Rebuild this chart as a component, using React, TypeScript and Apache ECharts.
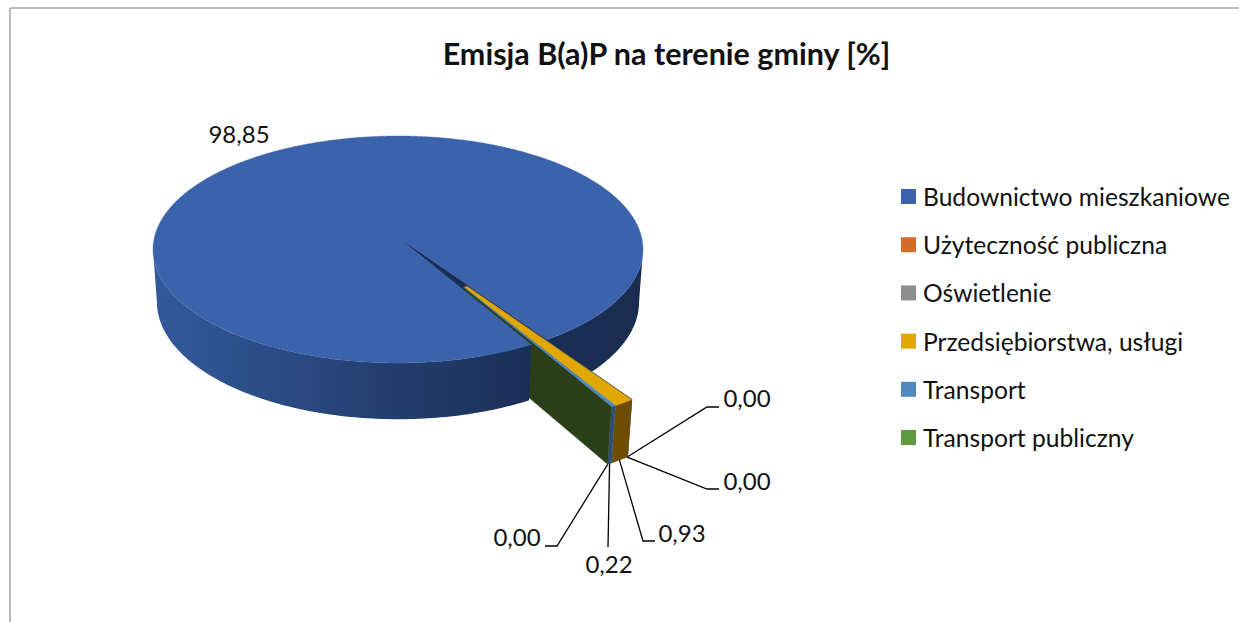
import React, { useEffect, useRef } from "react";
import * as echarts from "echarts";

const categories = [
  "Budownictwo mieszkaniowe",
  "Użyteczność publiczna",
  "Oświetlenie",
  "Przedsiębiorstwa, usługi",
  "Transport",
  "Transport publiczny",
];
const values = [98.85, 0.0, 0.0, 0.93, 0.22, 0.0];
const titleText = "Emisja B(a)P na terenie gminy [%]";

const topColors = ["#3B63AB", "#D46C2A", "#8E8E8E", "#E0A800", "#5089BF", "#5F9A3E"];
const wallColors = ["#1A2E54", "#6E3A15", "#5A5A5A", "#6F4D00", "#2B4F78", "#2A3F18"];

const FONT = "Lato, Carlito, Calibri, sans-serif";
const CX = 398, CY = 237, R = 243.5, S = 112.1, K = 0.11, DEPTH = 53, SHRINK = 0.016;
const FIRST_ANGLE = 150.3, EXPLODE = 0.28, SMALL_RADIUS = 1.22, SMALL_INNER = 0.18;
const SIDE_ANGLE = (Math.acos(K) * 180) / Math.PI;

const rad = (d: number) => (d * Math.PI) / 180;
const project = (u: number, v: number, bottom: boolean) => {
  const w = 1 - K * v + (bottom ? SHRINK : 0);
  return [CX + (R * u) / w, CY + (S * v + (bottom ? DEPTH : 0)) / w];
};
const total = values.reduce((a, b) => a + b, 0);
const angleOf = (i: number) => {
  let s = 0;
  for (let k = 0; k < i; k++) s += values[k];
  return FIRST_ANGLE + (s / total) * 360;
};
const bisector = (angleOf(1) + angleOf(values.length)) / 2;
const OFF_U = EXPLODE * Math.sin(rad(bisector));
const OFF_V = -EXPLODE * Math.cos(rad(bisector));

const pt = (a: number, r: number, off: boolean, bottom: boolean) => {
  const rr = off ? r * SMALL_RADIUS : r;
  return project(rr * Math.sin(rad(a)) + (off ? OFF_U : 0), -rr * Math.cos(rad(a)) + (off ? OFF_V : 0), bottom);
};

const rim = (a0: number, a1: number, off: boolean, bottom: boolean) => {
  const n = Math.max(1, Math.ceil(Math.abs(a1 - a0) * 2));
  const out: number[][] = [];
  for (let i = 0; i <= n; i++) out.push(pt(a0 + ((a1 - a0) * i) / n, 1, off, bottom));
  return out;
};

const poly = (points: number[][], fill: any) => ({
  type: "polygon",
  shape: { points },
  style: { fill, stroke: typeof fill === "string" ? fill : "none", lineWidth: typeof fill === "string" ? 0.4 : 0 },
  silent: true,
});
const wallGradient = () =>
  new echarts.graphic.LinearGradient(
    153, 0, 643, 0,
    [
      { offset: 0, color: "#345A9C" },
      { offset: 0.38, color: "#264478" },
      { offset: 0.77, color: "#1A2F56" },
      { offset: 1, color: "#192C50" },
    ],
    true
  );

const fmt = (v: number) => v.toFixed(2).replace(".", ",");

const labelLayout: Record<number, { via: number[][]; text: number[] }> = {
  0: { via: [], text: [239, 133] },
  1: { via: [[707, 407], [719, 407]], text: [747, 397] },
  2: { via: [[707, 489], [719, 489]], text: [747, 480] },
  3: { via: [[643, 541], [655, 541]], text: [682, 532] },
  4: { via: [[608, 547]], text: [609, 563] },
  5: { via: [[557, 546], [545, 546]], text: [517, 536] },
};

const labelEls = (i: number) => {
  const layout = labelLayout[i];
  const els: any[] = [];
  if (layout.via.length) {
    const mid = (angleOf(i) + angleOf(i + 1)) / 2;
    const start = pt(mid, 1, true, true);
    els.push({
      type: "polyline",
      shape: { points: [start, ...layout.via] },
      style: { stroke: "#000", lineWidth: 1.3, fill: "none" },
      silent: true,
    });
  }
  els.push({
    type: "text",
    style: {
      text: fmt(values[i]),
      x: layout.text[0],
      y: layout.text[1],
      align: "center",
      verticalAlign: "middle",
      font: `24px ${FONT}`,
      fill: "#111",
    },
    silent: true,
  });
  return els;
};

const mainBack = () => {
  const end = angleOf(1) - 360;
  return {
    type: "group",
    children: [
      poly([project(0, 0, false), pt(end, 1, false, false), pt(end, 1, false, true), project(0, 0, true)], wallColors[0]),
      poly([...rim(180 - SIDE_ANGLE, end, false, false), ...rim(end, 180 - SIDE_ANGLE, false, true)], wallGradient()),
    ],
  };
};
const mainFront = () => {
  const a0 = angleOf(0), a1 = angleOf(1);
  return {
    type: "group",
    children: [
      poly([...rim(a0, 180 + SIDE_ANGLE, false, false), ...rim(180 + SIDE_ANGLE, a0, false, true)], wallGradient()),
      poly([project(0, 0, false), ...rim(a0, a1, false, false)], topColors[0]),
      ...labelEls(0),
    ],
  };
};
const smallSlice = (i: number) => {
  const a0 = angleOf(i) - 360, a1 = angleOf(i + 1) - 360;
  const children: any[] = [];
  if (i === values.length - 1) {
    children.push(
      poly(
        [pt(a1, SMALL_INNER, true, false), pt(a1, 1, true, false), pt(a1, 1, true, true), pt(a1, SMALL_INNER, true, true)],
        wallColors[i]
      )
    );
  } else if (a1 === a0) {
    children.push({
      type: "polyline",
      shape: { points: [pt(a0, SMALL_INNER, true, false), pt(a0, 1, true, false), pt(a0, 1, true, true)] },
      style: { stroke: wallColors[i], lineWidth: 1.4, fill: "none" },
      silent: true,
    });
  }
  if (a1 > a0) {
    children.push(poly([...rim(a0, a1, true, false), ...rim(a1, a0, true, true)], wallColors[i]));
    children.push(poly([pt(a0, SMALL_INNER, true, false), ...rim(a0, a1, true, false), pt(a1, SMALL_INNER, true, false)], topColors[i]));
  }
  return { type: "group", children: [...children, ...labelEls(i)] };
};

const base = (name: string, color: string, z: number, render: () => any, value: number) => ({
  type: "custom",
  name,
  coordinateSystem: "none",
  z,
  silent: true,
  itemStyle: { color },
  data: [[value]],
  renderItem: render,
});

export default function App() {
  const ref = useRef<HTMLDivElement>(null);
  useEffect(() => {
    document.body.style.margin = "0";
    document.body.style.background = "#fff";
    const chart = echarts.init(ref.current!, undefined, { renderer: "svg" });
    chart.setOption({
      animation: false,
      backgroundColor: "#fff",
      title: {
        text: titleText,
        left: 661.5,
        top: 32,
        textAlign: "center",
        textStyle: { fontFamily: FONT, fontSize: 30.5, fontWeight: "bold", color: "#111" },
      },
      legend: {
        data: categories,
        orient: "vertical",
        left: 901,
        top: 184,
        padding: 0,
        icon: "rect",
        itemWidth: 15,
        itemHeight: 15,
        itemGap: 23.2,
        selectedMode: false,
        textStyle: { fontFamily: FONT, fontSize: 24.6, color: "#111", padding: [0, 0, 0, 2] },
      },
      graphic: [
        { type: "line", shape: { x1: 10, y1: 8, x2: 1239, y2: 8 }, style: { stroke: "#A6A6A6", lineWidth: 1.5 }, silent: true },
        { type: "line", shape: { x1: 10, y1: 8, x2: 10, y2: 622 }, style: { stroke: "#A6A6A6", lineWidth: 1.5 }, silent: true },
      ],
      series: [
        base(categories[0], topColors[0], 2, mainBack, values[0]),
        ...categories.slice(1).map((c, k) => base(c, topColors[k + 1], 3, () => smallSlice(k + 1), values[k + 1])),
        base(categories[0], topColors[0], 4, mainFront, values[0]),
      ],
    });
    return () => chart.dispose();
  }, []);
  return <div ref={ref} style={{ position: "absolute", left: 0, top: 0, width: 1239, height: 622, overflow: "hidden" }} />;
}
